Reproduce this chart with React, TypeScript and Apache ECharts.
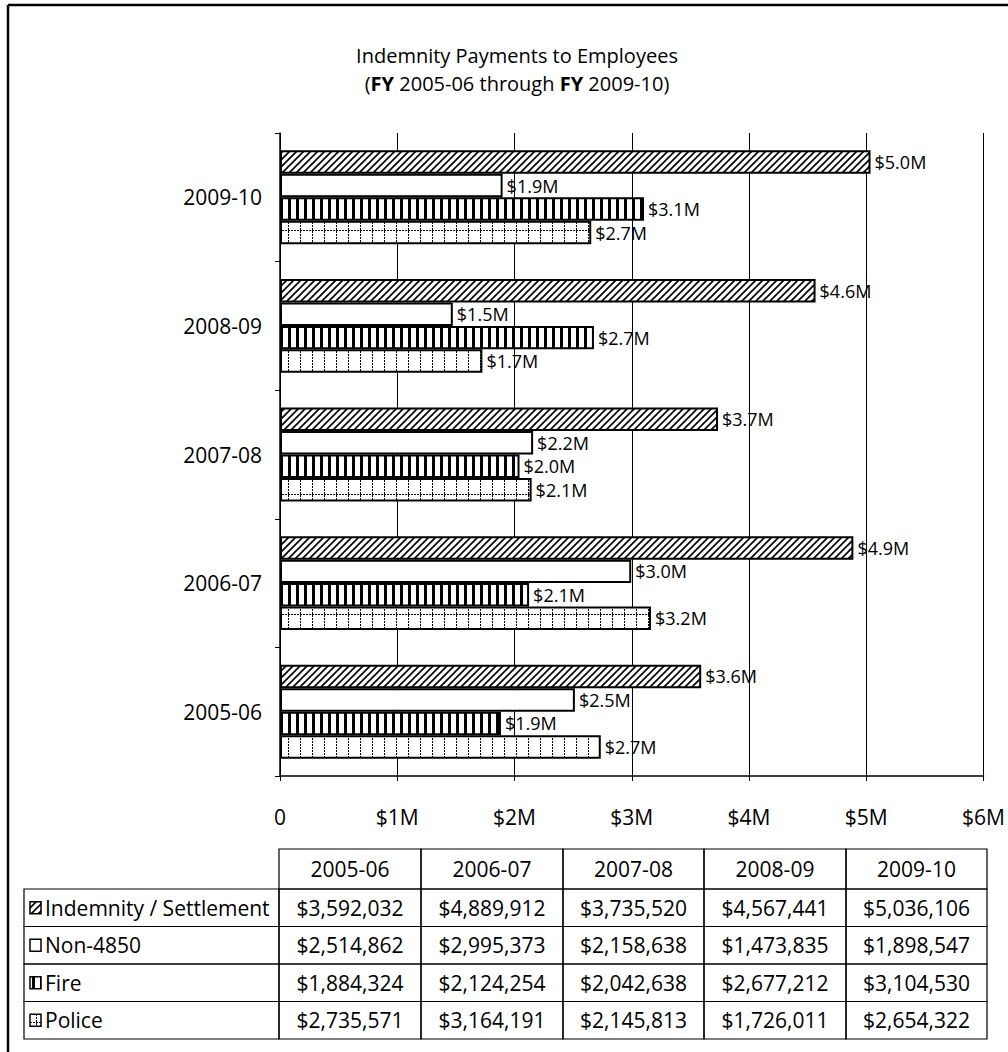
import React, { useEffect, useRef } from "react";
import * as echarts from "echarts";

const categories = ["2005-06", "2006-07", "2007-08", "2008-09", "2009-10"];
const seriesNames = ["Indemnity / Settlement", "Non-4850", "Fire", "Police"];
const indemnity = [3592032, 4889912, 3735520, 4567441, 5036106];
const non4850 = [2514862, 2995373, 2158638, 1473835, 1898547];
const fire = [1884324, 2124254, 2042638, 2677212, 3104530];
const police = [2735571, 3164191, 2145813, 1726011, 2654322];
const xTickValues = [0, 1000000, 2000000, 3000000, 4000000, 5000000, 6000000];
const titleLine1 = "Indemnity Payments to Employees";
const titleLine2 = "({b|FY} 2005-06 through {b|FY} 2009-10)";

const FONT = "'Open Sans', sans-serif";
const FS = 21;
const LABEL_FS = 18;

function makeCanvas(w: number, h: number, draw: (ctx: CanvasRenderingContext2D) => void) {
  const c = document.createElement("canvas");
  c.width = w;
  c.height = h;
  const ctx = c.getContext("2d") as CanvasRenderingContext2D;
  ctx.fillStyle = "#fff";
  ctx.fillRect(0, 0, w, h);
  draw(ctx);
  return c;
}

export default function App() {
  const ref = useRef<HTMLDivElement>(null);
  useEffect(() => {
    if (!ref.current) return;
    const chart = echarts.init(ref.current, null, { renderer: "svg" });

    const diag = makeCanvas(7, 7, (ctx) => {
      ctx.strokeStyle = "#000";
      ctx.lineWidth = 1.7;
      ctx.beginPath();
      ctx.moveTo(-1, 1); ctx.lineTo(1, -1);
      ctx.moveTo(0, 7); ctx.lineTo(7, 0);
      ctx.moveTo(6, 8); ctx.lineTo(8, 6);
      ctx.stroke();
    });
    const vert = makeCanvas(8, 8, (ctx) => {
      ctx.fillStyle = "#000";
      ctx.fillRect(0, 0, 3, 8);
    });
    const grid = makeCanvas(12, 24, (ctx) => {
      ctx.fillStyle = "#000";
      for (let y = 0; y < 24; y += 3) ctx.fillRect(0, y, 1, 2);
      for (let x = 0; x < 12; x += 3) ctx.fillRect(x, 14, 2, 1);
    });
    const pat = (img: HTMLCanvasElement) => ({ image: img, repeat: "repeat" });
    const fills = [pat(diag), "#ffffff", pat(vert), pat(grid)];
    const dataSets = [indemnity, non4850, fire, police];

    const fmtM = (v: number) => "$" + (v / 1e6).toFixed(1) + "M";
    const fmtFull = (v: number) => "$" + v.toLocaleString("en-US");

    const series: any[] = seriesNames.map((name, i) => ({
      name,
      type: "bar",
      data: dataSets[i],
      barGap: "0%",
      barCategoryGap: "27%",
      itemStyle: { color: fills[i], borderColor: "#000", borderWidth: 2 },
      label: {
        show: true,
        position: "right",
        distance: 4,
        formatter: (p: any) => fmtM(p.value),
        color: "#000",
        fontFamily: FONT,
        fontSize: LABEL_FS,
        lineHeight: 20,
      },
    }));

    // Table
    const g: any[] = [];
    const colX = [279, 421, 563, 704, 846, 987];
    const headTop = 849;
    const headH = 40;
    const rowTop = 889;
    const rowH = 37.5;
    const labelLeft = 24;
    const lineStyle = { stroke: "#000", lineWidth: 1.2 };
    for (let c = 0; c < 5; c++) {
      g.push({
        type: "rect",
        shape: { x: colX[c], y: headTop, width: colX[c + 1] - colX[c], height: headH },
        style: { ...lineStyle, fill: "none" },
      });
      g.push({
        type: "text",
        style: {
          text: categories[c],
          x: (colX[c] + colX[c + 1]) / 2,
          y: headTop + headH / 2,
          align: "center",
          verticalAlign: "middle",
          font: `${FS}px ${FONT}`,
          fill: "#000",
        },
      });
    }
    for (let r = 0; r < 4; r++) {
      const y0 = rowTop + r * rowH;
      const cy = y0 + rowH / 2;
      g.push({
        type: "rect",
        shape: { x: labelLeft, y: y0, width: colX[0] - labelLeft, height: rowH },
        style: { ...lineStyle, fill: "none" },
      });
      g.push({
        type: "rect",
        shape: { x: 30, y: cy - 6, width: 11, height: 12 },
        style: { fill: fills[r], stroke: "#000", lineWidth: 1.5 },
      });
      g.push({
        type: "text",
        style: {
          text: seriesNames[r],
          x: 45,
          y: cy,
          align: "left",
          verticalAlign: "middle",
          font: `${FS}px ${FONT}`,
          fill: "#000",
        },
      });
      for (let c = 0; c < 5; c++) {
        g.push({
          type: "rect",
          shape: { x: colX[c], y: y0, width: colX[c + 1] - colX[c], height: rowH },
          style: { ...lineStyle, fill: "none" },
        });
        g.push({
          type: "text",
          style: {
            text: fmtFull(dataSets[r][c]),
            x: (colX[c] + colX[c + 1]) / 2,
            y: cy,
            align: "center",
            verticalAlign: "middle",
            font: `${FS}px ${FONT}`,
            fill: "#000",
          },
        });
      }
    }
    // Title (two separate lines)
    g.push({
      type: "text",
      style: {
        text: titleLine1,
        x: 517,
        y: 55,
        align: "center",
        verticalAlign: "middle",
        font: `20px ${FONT}`,
        fill: "#000",
      },
    });
    g.push({
      type: "text",
      style: {
        text: titleLine2,
        x: 517,
        y: 83,
        align: "center",
        verticalAlign: "middle",
        font: `20px ${FONT}`,
        fill: "#000",
        rich: {
          b: { fontWeight: "bold", fontFamily: FONT, fontSize: 20 },
        },
      },
    });
    // Frame
    g.push({ type: "line", shape: { x1: 8, y1: 5, x2: 1008, y2: 5 }, style: { stroke: "#000", lineWidth: 2.5 } });
    g.push({ type: "line", shape: { x1: 8, y1: 5, x2: 8, y2: 1052 }, style: { stroke: "#000", lineWidth: 2.5 } });

    chart.setOption({
      animation: false,
      backgroundColor: "#fff",
      grid: { left: 280, right: 22, top: 133, bottom: 276, containLabel: false },
      xAxis: {
        type: "value",
        min: xTickValues[0],
        max: xTickValues[xTickValues.length - 1],
        interval: 1000000,
        axisLine: { show: true, lineStyle: { color: "#000", width: 1.5 } },
        axisTick: { show: true, length: 5, lineStyle: { color: "#000" } },
        splitLine: { show: true, lineStyle: { color: "#000", width: 1 } },
        axisLabel: {
          margin: 30,
          color: "#000",
          fontFamily: FONT,
          fontSize: FS,
          formatter: (v: number) => (v === 0 ? "0" : "$" + v / 1e6 + "M"),
        },
      },
      yAxis: {
        type: "category",
        data: categories,
        axisLine: { show: true, lineStyle: { color: "#000", width: 1.5 } },
        axisTick: { show: true, length: 5, lineStyle: { color: "#000" } },
        axisLabel: { margin: 18, color: "#000", fontFamily: FONT, fontSize: FS },
      },
      series,
      graphic: g,
    });
    return () => chart.dispose();
  }, []);
  return (
    <div
      ref={ref}
      style={{ position: "absolute", left: 0, top: 0, width: 1008, height: 1052, background: "#fff" }}
    />
  );
}
